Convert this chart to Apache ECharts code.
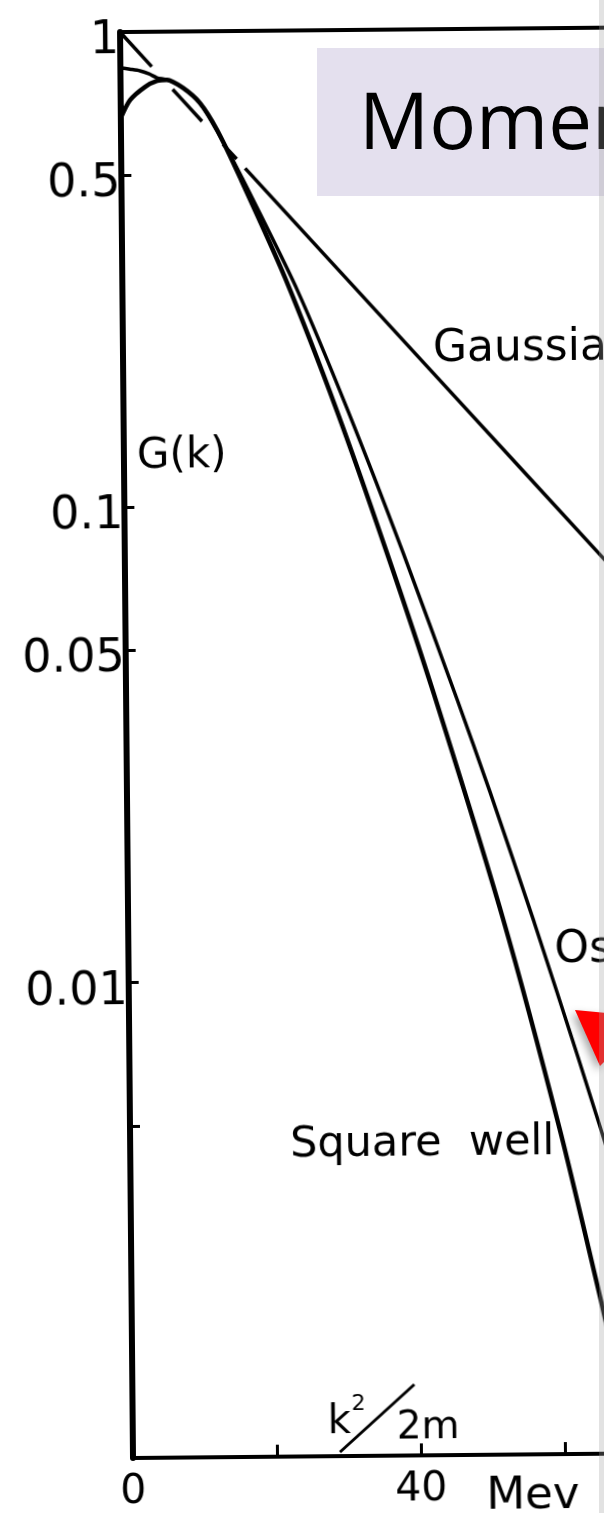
<!DOCTYPE html>
<html>
<head>
<meta charset="utf-8">
<script src="https://cdn.jsdelivr.net/npm/echarts@6/dist/echarts.min.js"></script>
<style>
  html, body { margin: 0; padding: 0; background: #fff; overflow: hidden; }
  /* the scanned figure runs past the right edge of the page and sits very slightly rotated */
  #plot { position: absolute; left: 0; top: 0; width: 900px; height: 1513px;
          transform-origin: 133px 1458px; transform: rotate(-0.52deg); }
  #slide { position: absolute; left: 0; top: 0; width: 604px; height: 1513px; pointer-events: none; }
</style>
</head>
<body>
<div id="plot"></div>
<div id="slide"></div>
<script>
// ---- axis ticks ----
const yTickValues = [1, 0.5, 0.1, 0.05, 0.01, 0.005];
const yLabelValues = [1, 0.5, 0.1, 0.05, 0.01];
const yLabelTexts = ['1', '0.5', '0.1', '0.05', '0.01'];
const xTickValues = [0, 20, 40, 60, 80];
const xLabelValues = [0, 40, 80];

// ---- G(k) against k^2/2m (Mev) ----
const gaussianNear = [[0, 1], [17.2, 0.514]];
const gaussianFar = [[17.2, 0.514], [42.6, 0.1925], [70, 0.0667]];

const squareWell = [
  [0, 0.660], [1.3, 0.719], [3.4, 0.766], [5.07, 0.788], [6.46, 0.792],
  [8.67, 0.761], [11.0, 0.707], [13.35, 0.620], [16.47, 0.492], [22.6, 0.302],
  [29.65, 0.158], [36.4, 0.0794], [42.63, 0.0405], [52.07, 0.01340],
  [59.72, 0.00480], [65.07, 0.00214], [67.7, 0.00141]
];

const oscillator = [
  [0, 0.841], [1.33, 0.835], [2.72, 0.828], [4.0, 0.815], [5.07, 0.800], [6.46, 0.792],
  [8.67, 0.761], [11.0, 0.707], [13.34, 0.617], [16.47, 0.501], [24.26, 0.285],
  [31.18, 0.158], [38.64, 0.0794], [45.96, 0.0389], [50.42, 0.0248], [56.38, 0.01318],
  [62.45, 0.00673], [68.25, 0.00347]
];

const INK = '#000';
const LETTERING = '"DejaVu Sans", sans-serif';

function line(data, width, dash) {
  return {
    type: 'line', data: data, showSymbol: false, smooth: 0.25, clip: true,
    lineStyle: { color: INK, width: width, type: dash || 'solid', cap: 'butt' },
    emphasis: { disabled: true }, silent: true
  };
}

function label(text, x, y, size) {
  return { type: 'text', x: x, y: y, silent: true,
           style: { text: text, font: size + 'px ' + LETTERING, fill: INK,
                    align: 'left', verticalAlign: 'middle' } };
}

const plot = echarts.init(document.getElementById('plot'), null, { renderer: 'canvas' });
plot.setOption({
  animation: false,
  backgroundColor: 'transparent',
  grid: { left: 133, top: 32, width: 720, height: 1426, containLabel: false, outerBoundsMode: 'none' },
  xAxis: [{
    type: 'value', min: 0, max: 100, interval: 20,
    axisLine: { lineStyle: { color: INK, width: 4 } },
    axisTick: { inside: true, length: 12, lineStyle: { color: INK, width: 3 }, customValues: xTickValues },
    axisLabel: { color: INK, fontFamily: LETTERING, fontSize: 41, margin: 14,
                 customValues: xLabelValues, formatter: v => String(v) },
    splitLine: { show: false }
  }, {
    type: 'value', min: 0, max: 100, position: 'top',
    axisLine: { lineStyle: { color: INK, width: 4 } },
    axisTick: { show: false }, axisLabel: { show: false }, splitLine: { show: false }
  }],
  yAxis: {
    type: 'log', logBase: 10, min: 0.001, max: 1,
    axisLine: { lineStyle: { color: INK, width: 6 } },
    axisTick: { inside: true, length: 10, lineStyle: { color: INK, width: 3 }, customValues: yTickValues },
    axisLabel: { color: INK, fontFamily: LETTERING, fontSize: 46, margin: 1,
                 customValues: yLabelValues,
                 formatter: v => {
                   const i = yLabelValues.findIndex(t => Math.abs(t - v) / t < 1e-6);
                   return i >= 0 ? '{t|' + yLabelTexts[i] + '}' : '';
                 },
                 rich: { t: { fontFamily: LETTERING, fontSize: 46, color: INK, padding: [18, 0, 0, 0] } } },
    splitLine: { show: false }, minorTick: { show: false }
  },
  series: [
    line(gaussianNear, 3.5, [47, 31, 43, 31, 20, 20]),
    line(gaussianFar, 3.5),
    line(squareWell, 4.5),
    line(oscillator, 3.5)
  ],
  graphic: [
    label('G(k)', 146, 457, 42),
    label('Gaussian', 443, 353, 44),
    label('Oscillator', 559, 955, 44),
    label('Square  well', 293, 1147, 43),
    label('k', 328, 1425, 40),
    label('2', 352, 1406, 22),
    label('2m', 397, 1431, 39),
    { type: 'line', silent: true, shape: { x1: 340, y1: 1454, x2: 415, y2: 1387 },
      style: { stroke: INK, lineWidth: 3 } },
    label('Mev', 486, 1500, 45)
  ]
});

// ---- slide overlay: title box, pointer arrow, page edge ----
const slide = echarts.init(document.getElementById('slide'), null, { renderer: 'canvas' });
slide.setOption({
  animation: false,
  backgroundColor: 'transparent',
  graphic: [
    { type: 'rect', shape: { x: 317, y: 48, width: 300, height: 148 },
      style: { fill: '#e4e0ee' }, silent: true },
    { type: 'text', x: 359, y: 127, silent: true,
      style: { text: 'Momentum distribution', font: '78px "Open Sans", sans-serif', fill: '#000',
               align: 'left', verticalAlign: 'middle' } },
    { type: 'polygon', silent: true,
      shape: { points: [[575, 1010], [606, 1013], [606, 1060], [600, 1066]] },
      style: { fill: '#ff0000', shadowBlur: 8, shadowColor: 'rgba(0,0,0,0.35)',
               shadowOffsetX: -3, shadowOffsetY: 4 } },
    { type: 'rect', silent: true, shape: { x: 599, y: 0, width: 5, height: 1513 },
      style: { fill: 'rgba(160,160,160,0.30)' } }
  ]
});
</script>
</body>
</html>
